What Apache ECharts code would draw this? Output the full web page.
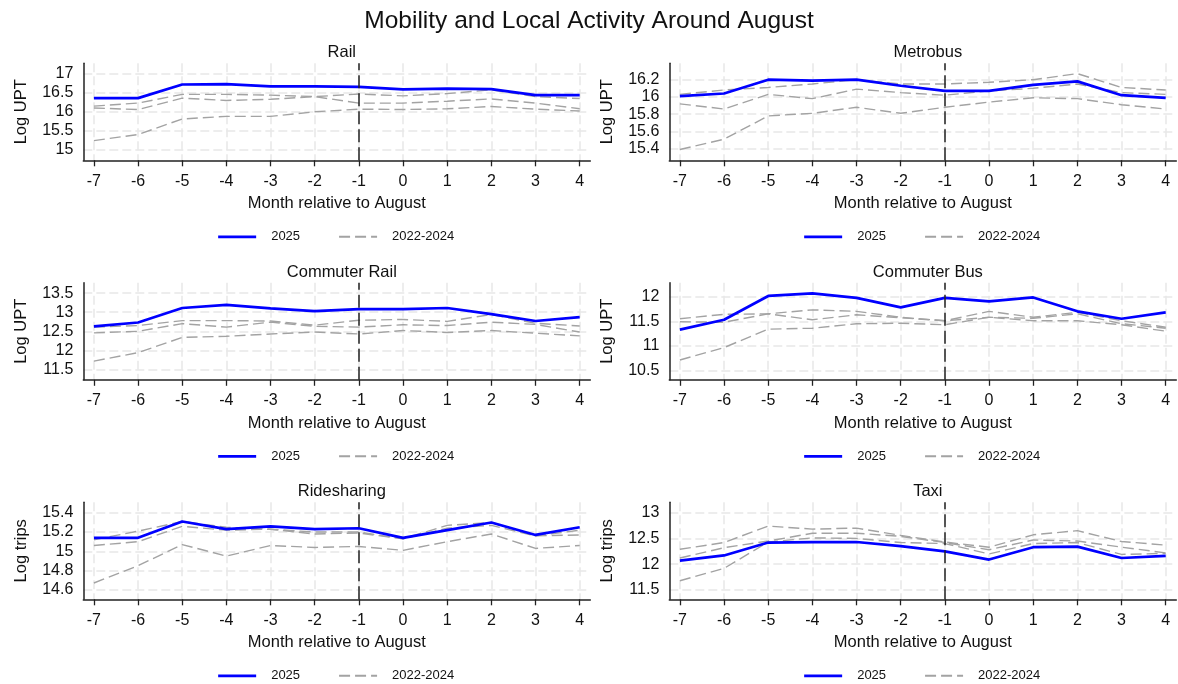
<!DOCTYPE html>
<html>
<head>
<meta charset="utf-8">
<script src="https://cdn.jsdelivr.net/npm/echarts@6/dist/echarts.min.js"></script>
<style>
  html, body { margin: 0; padding: 0; background: #ffffff; }
  #chart { width: 1178px; height: 684px; }
</style>
</head>
<body>
<div id="chart"></div>
<script>
// Months relative to August (x axis)
const months = [-7, -6, -5, -4, -3, -2, -1, 0, 1, 2, 3, 4];

// Rail (log unlinked passenger trips)
const railTicks = [15, 15.5, 16, 16.5, 17];
const railRange = [14.72, 17.28];
const rail2025 = [16.36, 16.36, 16.72, 16.73, 16.67, 16.67, 16.66, 16.59, 16.61, 16.60, 16.44, 16.44];
const railPrior1 = [16.15, 16.23, 16.46, 16.46, 16.44, 16.40, 16.47, 16.42, 16.48, 16.58, 16.40, 16.35];
const railPrior2 = [16.10, 16.06, 16.36, 16.30, 16.33, 16.40, 16.23, 16.23, 16.28, 16.34, 16.23, 16.08];
const railPrior3 = [15.24, 15.40, 15.81, 15.88, 15.88, 16.00, 16.07, 16.06, 16.08, 16.14, 16.07, 16.02];

// Metrobus
const metroTicks = [15.4, 15.6, 15.8, 16, 16.2];
const metroRange = [15.265, 16.39];
const metro2025 = [16.01, 16.04, 16.20, 16.19, 16.20, 16.13, 16.07, 16.07, 16.14, 16.18, 16.02, 15.99];
const metroPrior1 = [16.03, 16.08, 16.11, 16.15, 16.20, 16.15, 16.15, 16.17, 16.20, 16.27, 16.11, 16.08];
const metroPrior2 = [15.92, 15.86, 16.03, 15.98, 16.09, 16.05, 16.02, 16.07, 16.10, 16.15, 16.05, 16.03];
const metroPrior3 = [15.39, 15.51, 15.78, 15.81, 15.88, 15.81, 15.88, 15.94, 15.99, 15.98, 15.91, 15.86];

// Commuter Rail
const crailTicks = [11.5, 12, 12.5, 13, 13.5];
const crailRange = [11.23, 13.77];
const crail2025 = [12.63, 12.73, 13.11, 13.19, 13.10, 13.03, 13.08, 13.08, 13.11, 12.95, 12.77, 12.87];
const crailPrior1 = [12.61, 12.65, 12.78, 12.78, 12.77, 12.66, 12.79, 12.81, 12.76, 12.94, 12.71, 12.64];
const crailPrior2 = [12.46, 12.50, 12.70, 12.61, 12.74, 12.63, 12.61, 12.67, 12.65, 12.74, 12.68, 12.48];
const crailPrior3 = [11.72, 11.94, 12.34, 12.37, 12.43, 12.48, 12.43, 12.52, 12.47, 12.52, 12.45, 12.38];

// Commuter Bus
const cbusTicks = [10.5, 11, 11.5, 12];
const cbusRange = [10.32, 12.275];
const cbus2025 = [11.33, 11.53, 12.01, 12.06, 11.97, 11.78, 11.97, 11.90, 11.98, 11.70, 11.55, 11.68];
const cbusPrior1 = [11.55, 11.64, 11.65, 11.73, 11.70, 11.58, 11.51, 11.70, 11.58, 11.68, 11.51, 11.38];
const cbusPrior2 = [11.49, 11.48, 11.65, 11.53, 11.63, 11.57, 11.51, 11.58, 11.56, 11.65, 11.45, 11.36];
const cbusPrior3 = [10.72, 10.97, 11.34, 11.36, 11.45, 11.46, 11.43, 11.58, 11.51, 11.51, 11.43, 11.30];

// Ridesharing (log trips)
const rideTicks = [14.6, 14.8, 15, 15.2, 15.4];
const rideRange = [14.50, 15.51];
const ride2025 = [15.14, 15.14, 15.31, 15.23, 15.26, 15.23, 15.24, 15.14, 15.22, 15.30, 15.17, 15.25];
const ridePrior1 = [15.12, 15.21, 15.31, 15.25, 15.23, 15.20, 15.20, 15.13, 15.27, 15.30, 15.16, 15.22];
const ridePrior2 = [15.06, 15.10, 15.26, 15.22, 15.23, 15.18, 15.19, 15.13, 15.24, 15.27, 15.16, 15.17];
const ridePrior3 = [14.67, 14.85, 15.07, 14.95, 15.06, 15.04, 15.05, 15.01, 15.10, 15.18, 15.03, 15.06];

// Taxi (log trips)
const taxiTicks = [11.5, 12, 12.5, 13];
const taxiRange = [11.32, 13.2];
const taxi2025 = [12.07, 12.17, 12.42, 12.43, 12.43, 12.35, 12.25, 12.09, 12.33, 12.34, 12.12, 12.16];
const taxiPrior1 = [12.29, 12.42, 12.74, 12.68, 12.70, 12.56, 12.43, 12.33, 12.57, 12.65, 12.44, 12.37];
const taxiPrior2 = [12.12, 12.32, 12.45, 12.60, 12.60, 12.54, 12.42, 12.28, 12.47, 12.45, 12.33, 12.22];
const taxiPrior3 = [11.68, 11.92, 12.43, 12.51, 12.50, 12.42, 12.40, 12.20, 12.40, 12.42, 12.19, 12.21];

const panels = [
  { title: 'Rail', yName: 'Log UPT', ticks: railTicks, range: railRange, main: rail2025, prior: [railPrior1, railPrior2, railPrior3] },
  { title: 'Metrobus', yName: 'Log UPT', ticks: metroTicks, range: metroRange, main: metro2025, prior: [metroPrior1, metroPrior2, metroPrior3] },
  { title: 'Commuter Rail', yName: 'Log UPT', ticks: crailTicks, range: crailRange, main: crail2025, prior: [crailPrior1, crailPrior2, crailPrior3] },
  { title: 'Commuter Bus', yName: 'Log UPT', ticks: cbusTicks, range: cbusRange, main: cbus2025, prior: [cbusPrior1, cbusPrior2, cbusPrior3] },
  { title: 'Ridesharing', yName: 'Log trips', ticks: rideTicks, range: rideRange, main: ride2025, prior: [ridePrior1, ridePrior2, ridePrior3] },
  { title: 'Taxi', yName: 'Log trips', ticks: taxiTicks, range: taxiRange, main: taxi2025, prior: [taxiPrior1, taxiPrior2, taxiPrior3] }
];

// Layout of the 3 x 2 panel grid
const FONT = "'Liberation Sans', Arial, sans-serif";
const colLeft = [83.3, 669.3];
const plotW = 507;
const rowTop = [63.3, 282.8, 502.3];
const plotH = 97;
const xMin = -7.24, xMax = 4.24;

const axisColor = '#222222';
const gridLineStyle = { color: '#e8e8e8', width: 1.5, type: [9, 4] };

const grids = [], xAxes = [], yAxes = [], series = [], titles = [], legends = [];

titles.push({
  text: 'Mobility and Local Activity Around August',
  left: 'center', top: 4,
  textStyle: { fontFamily: FONT, fontSize: 24.5, fontWeight: 'normal', color: '#111111' }
});

panels.forEach((p, i) => {
  const col = i % 2, row = Math.floor(i / 2);
  const left = colLeft[col], top = rowTop[row];
  grids.push({ left: left, top: top, width: plotW, height: plotH });

  titles.push({
    text: p.title,
    left: left + plotW / 2, top: top - 24, textAlign: 'center',
    textStyle: { fontFamily: FONT, fontSize: 16.5, fontWeight: 'normal', color: '#111111' }
  });

  xAxes.push({
    gridIndex: i, type: 'value', min: xMin, max: xMax,
    name: 'Month relative to August', nameLocation: 'middle', nameGap: 35,
    nameTextStyle: { fontFamily: FONT, fontSize: 16.5, color: '#111111' },
    axisLine: { show: true, onZero: false, lineStyle: { color: axisColor, width: 1.5 } },
    axisTick: { show: true, length: 6, customValues: months, lineStyle: { color: axisColor, width: 1.3 } },
    axisLabel: { customValues: months, fontFamily: FONT, fontSize: 16, color: '#111111', margin: 13 },
    splitLine: { show: true, lineStyle: gridLineStyle }
  });

  yAxes.push({
    gridIndex: i, type: 'value', min: p.range[0], max: p.range[1],
    name: p.yName, nameLocation: 'middle', nameGap: 53,
    nameTextStyle: { fontFamily: FONT, fontSize: 16.5, color: '#111111' },
    axisLine: { show: true, onZero: false, lineStyle: { color: axisColor, width: 1.5 } },
    axisTick: { show: false, customValues: p.ticks },
    axisLabel: { customValues: p.ticks, fontFamily: FONT, fontSize: 16, color: '#111111', margin: 10 },
    splitLine: { show: true, lineStyle: gridLineStyle }
  });

  p.prior.forEach(vals => {
    series.push({
      name: '2022-2024', type: 'line', xAxisIndex: i, yAxisIndex: i,
      data: months.map((m, k) => [m, vals[k]]),
      symbol: 'none', silent: true, z: 2,
      lineStyle: { color: '#a3a3a3', width: 1.4, type: [11, 5] },
      itemStyle: { color: '#a3a3a3' }
    });
  });

  series.push({
    name: '2025', type: 'line', xAxisIndex: i, yAxisIndex: i,
    data: months.map((m, k) => [m, p.main[k]]),
    symbol: 'none', silent: true, z: 3,
    lineStyle: { color: '#0000ff', width: 2.7 },
    itemStyle: { color: '#0000ff' },
    markLine: {
      silent: true, symbol: 'none', label: { show: false },
      lineStyle: { color: '#222222', width: 1.5, type: [13, 5] },
      data: [{ xAxis: -1 }]
    }
  });

  // Legend: line samples only, no marker dot
  legends.push({
    data: [
      { name: '2025', lineStyle: { width: 2.7 } },
      { name: '2022-2024' }
    ],
    left: left + plotW / 2 - 125, top: top + plotH + 65,
    orient: 'horizontal',
    itemWidth: 38, itemHeight: 14, itemGap: 38,
    selectedMode: false,
    itemStyle: { opacity: 0 },
    textStyle: { fontFamily: FONT, fontSize: 13, color: '#111111', padding: [0, 0, 0, 10] }
  });
});

const chart = echarts.init(document.getElementById('chart'), null, { renderer: 'canvas' });
chart.setOption({
  animation: false,
  backgroundColor: '#ffffff',
  title: titles,
  legend: legends,
  grid: grids,
  xAxis: xAxes,
  yAxis: yAxes,
  series: series
});
</script>
</body>
</html>
